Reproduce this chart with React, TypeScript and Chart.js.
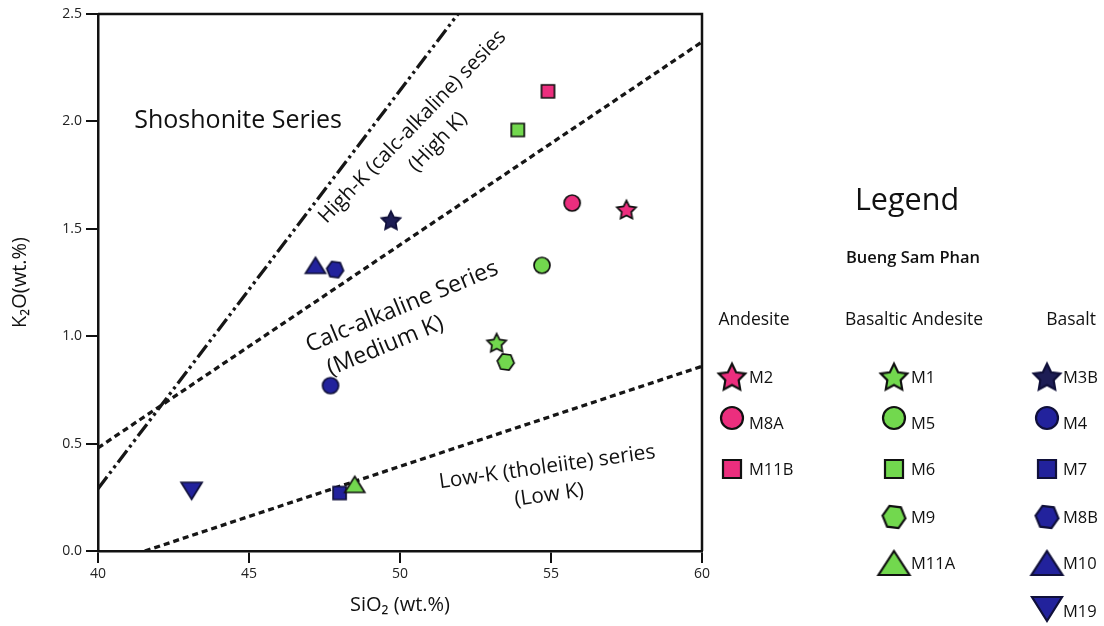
import React, { useEffect, useRef } from 'react';
import { Chart, registerables } from 'chart.js';

Chart.register(...registerables);

// ---------------- data ----------------
const sampleNames = ['M2', 'M8A', 'M11B', 'M1', 'M5', 'M6', 'M9', 'M11A', 'M3B', 'M4', 'M7', 'M8B', 'M10', 'M19'];
const rockTypes = [
  'Andesite', 'Andesite', 'Andesite',
  'Basaltic Andesite', 'Basaltic Andesite', 'Basaltic Andesite', 'Basaltic Andesite', 'Basaltic Andesite',
  'Basalt', 'Basalt', 'Basalt', 'Basalt', 'Basalt', 'Basalt',
];
const markerShapes = [
  'star', 'circle', 'square',
  'star', 'circle', 'square', 'hexagon', 'triangle',
  'star', 'circle', 'square', 'hexagon', 'triangle', 'triangleDown',
];
const sio2Values = [57.5, 55.7, 54.9, 53.2, 54.7, 53.9, 53.5, 48.5, 49.7, 47.7, 48.0, 47.85, 47.2, 43.1];
const k2oValues = [1.59, 1.62, 2.14, 0.97, 1.33, 1.96, 0.88, 0.31, 1.54, 0.77, 0.27, 1.31, 1.33, 0.28];

const rockGroups = ['Andesite', 'Basaltic Andesite', 'Basalt'];

const xTickValues = [40, 45, 50, 55, 60];
const yTickValues = [0, 0.5, 1.0, 1.5, 2.0, 2.5];

// classification boundaries (SiO2, K2O)
const shoshoniteLineX = [40, 51.92];
const shoshoniteLineY = [0.29, 2.5];
const highKLineX = [40, 60];
const highKLineY = [0.48, 2.37];
const lowKLineX = [41.55, 60];
const lowKLineY = [0, 0.86];

// field labels (placed in data coordinates)
const fieldLabelTexts = [
  'Shoshonite Series',
  'High-K (calc-alkaline) sesies',
  '(High K)',
  'Calc-alkaline Series',
  '(Medium K)',
  'Low-K (tholeiite) series',
  '(Low K)',
];
const fieldLabelX = [44.64, 50.55, 51.4, 50.15, 49.6, 54.9, 54.97];
const fieldLabelY = [1.969, 1.955, 1.885, 1.108, 0.926, 0.363, 0.233];
const fieldLabelAngle = [0, -46, -46, -22.5, -22.5, -8, -8];
const fieldLabelSize = [25, 20.5, 20.5, 23.2, 23.2, 20.8, 20.8];

// ---------------- styles ----------------
const FONT = "'Open Sans', 'Noto Sans', sans-serif";
const groupColors: Record<string, string> = {
  Andesite: '#ec2e7e',
  'Basaltic Andesite': '#72d84e',
  Basalt: '#22229c',
};
const specialFill: Record<string, string> = { M3B: '#1d1d55' };

type Size = { w: number; h: number };
const plotSizes: Record<string, Size> = {
  star: { w: 20, h: 19 },
  circle: { w: 16, h: 16 },
  square: { w: 13, h: 13 },
  hexagon: { w: 17, h: 16 },
  triangle: { w: 20, h: 16 },
  triangleDown: { w: 21, h: 17 },
};
const legendSizes: Record<string, Size> = {
  star: { w: 28, h: 27 },
  circle: { w: 22, h: 22 },
  square: { w: 18, h: 18 },
  hexagon: { w: 23, h: 22 },
  triangle: { w: 31, h: 24 },
  triangleDown: { w: 30, h: 24 },
};

function makeMarker(shape: string, fill: string, size: Size, stroke: string, lw: number): HTMLCanvasElement {
  const pad = Math.ceil(lw) + 1;
  const c = document.createElement('canvas');
  c.width = Math.ceil(size.w + pad * 2);
  c.height = Math.ceil(size.h + pad * 2);
  const ctx = c.getContext('2d')!;
  const cx = c.width / 2;
  const cy = c.height / 2;
  const rw = size.w / 2;
  const rh = size.h / 2;
  ctx.beginPath();
  if (shape === 'circle') {
    ctx.ellipse(cx, cy, rw, rh, 0, 0, Math.PI * 2);
  } else if (shape === 'square') {
    ctx.rect(cx - rw, cy - rh, size.w, size.h);
  } else if (shape === 'star') {
    const inner = 0.5;
    for (let i = 0; i < 10; i++) {
      const a = -Math.PI / 2 + (i * Math.PI) / 5;
      const r = i % 2 === 0 ? 1 : inner;
      const px = cx + Math.cos(a) * rw * r;
      const py = cy + 1 + Math.sin(a) * rh * r * 1.05;
      if (i === 0) ctx.moveTo(px, py);
      else ctx.lineTo(px, py);
    }
    ctx.closePath();
  } else if (shape === 'hexagon') {
    for (let i = 0; i < 6; i++) {
      const a = (i * Math.PI) / 3 + 0.12;
      const px = cx + Math.cos(a) * rw;
      const py = cy + Math.sin(a) * rh * 1.1;
      if (i === 0) ctx.moveTo(px, py);
      else ctx.lineTo(px, py);
    }
    ctx.closePath();
  } else if (shape === 'triangle') {
    ctx.moveTo(cx, cy - rh);
    ctx.lineTo(cx + rw, cy + rh);
    ctx.lineTo(cx - rw, cy + rh);
    ctx.closePath();
  } else if (shape === 'triangleDown') {
    ctx.moveTo(cx, cy + rh);
    ctx.lineTo(cx + rw, cy - rh);
    ctx.lineTo(cx - rw, cy - rh);
    ctx.closePath();
  }
  ctx.fillStyle = fill;
  ctx.fill();
  ctx.lineJoin = 'miter';
  ctx.lineWidth = lw;
  ctx.strokeStyle = stroke;
  ctx.stroke();
  return c;
}

function fillFor(i: number): string {
  return specialFill[sampleNames[i]] || groupColors[rockTypes[i]];
}
function strokeFor(i: number): string {
  return rockTypes[i] === 'Basalt' ? '#10103a' : '#111111';
}

// ---------------- plugins ----------------
const framePlugin = {
  id: 'frame',
  afterDraw(chart: any) {
    const { ctx, chartArea } = chart;
    ctx.save();
    ctx.strokeStyle = '#111';
    ctx.lineWidth = 2.5;
    ctx.beginPath();
    ctx.moveTo(chartArea.left, chartArea.top);
    ctx.lineTo(chartArea.right, chartArea.top);
    ctx.lineTo(chartArea.right, chartArea.bottom);
    ctx.stroke();
    ctx.restore();
  },
};

const fieldLabelPlugin = {
  id: 'fieldLabels',
  beforeDatasetsDraw(chart: any) {
    const { ctx, scales } = chart;
    ctx.save();
    ctx.fillStyle = '#111';
    ctx.textAlign = 'center';
    ctx.textBaseline = 'alphabetic';
    fieldLabelTexts.forEach((t, i) => {
      const px = scales.x.getPixelForValue(fieldLabelX[i]);
      const py = scales.y.getPixelForValue(fieldLabelY[i]);
      ctx.save();
      ctx.translate(px, py);
      ctx.rotate((fieldLabelAngle[i] * Math.PI) / 180);
      ctx.font = `${fieldLabelSize[i]}px ${FONT}`;
      ctx.fillText(t, 0, 0);
      ctx.restore();
    });
    ctx.restore();
  },
};

const legendPlugin = {
  id: 'customLegend',
  afterDraw(chart: any) {
    const { ctx } = chart;
    ctx.save();
    ctx.fillStyle = '#111';
    ctx.textAlign = 'center';
    ctx.textBaseline = 'middle';
    ctx.font = `30.5px ${FONT}`;
    ctx.fillText('Legend', 907, 201);
    ctx.font = `600 16.5px ${FONT}`;
    ctx.fillText('Bueng Sam Phan', 913, 258);
    ctx.font = `17.5px ${FONT}`;
    const headerX = [754, 914, 1071];
    rockGroups.forEach((g, gi) => ctx.fillText(g, headerX[gi], 320));

    const markerX = [732, 894, 1047];
    const labelX = [749, 911, 1063];
    const rowY = [377, 418, 469, 517, 563, 609];
    const labelYOff = [1, 6, 1, 1, 1, 3];
    ctx.textAlign = 'left';
    ctx.font = `16.5px ${FONT}`;
    rockGroups.forEach((g, gi) => {
      let row = 0;
      sampleNames.forEach((name, i) => {
        if (rockTypes[i] !== g) return;
        const img = makeMarker(markerShapes[i], fillFor(i), legendSizes[markerShapes[i]], strokeFor(i), 2.2);
        ctx.drawImage(img, markerX[gi] - img.width / 2, rowY[row] - img.height / 2);
        ctx.fillText(name, labelX[gi], rowY[row] + labelYOff[row]);
        row++;
      });
    });
    ctx.restore();
  },
};

export default function App() {
  const canvasRef = useRef<HTMLCanvasElement | null>(null);

  useEffect(() => {
    if (!canvasRef.current) return;
    const pointDatasets = sampleNames.map((name, i) => ({
      type: 'scatter' as const,
      label: name,
      data: [{ x: sio2Values[i], y: k2oValues[i] }],
      pointStyle: makeMarker(markerShapes[i], fillFor(i), plotSizes[markerShapes[i]], strokeFor(i), 1.7),
      pointRadius: 9,
      backgroundColor: fillFor(i),
      borderColor: '#111',
    }));
    const lineDef = (xs: number[], ys: number[], dash: number[], label: string) => ({
      type: 'line' as const,
      label,
      data: xs.map((x, k) => ({ x, y: ys[k] })),
      borderColor: '#161616',
      borderWidth: 3.3,
      borderDash: dash,
      borderCapStyle: 'butt' as const,
      pointRadius: 0,
      fill: false,
      tension: 0,
    });
    const chart = new Chart(canvasRef.current, {
      type: 'scatter',
      data: {
        datasets: [
          ...pointDatasets,
          lineDef(shoshoniteLineX, shoshoniteLineY, [15, 4, 3, 4, 3, 4], 'Shoshonite boundary'),
          lineDef(highKLineX, highKLineY, [6, 4], 'High-K boundary'),
          lineDef(lowKLineX, lowKLineY, [6, 4], 'Low-K boundary'),
        ] as any,
      },
      options: {
        animation: false,
        responsive: true,
        maintainAspectRatio: false,
        layout: { padding: { left: 0, top: 14, right: 402, bottom: 0 } },
        plugins: {
          legend: { display: false },
          tooltip: { enabled: false },
        },
        scales: {
          x: {
            type: 'linear',
            min: 40,
            max: 60,
            afterFit: (s: any) => { s.height = 75; },
            afterBuildTicks: (s: any) => { s.ticks = xTickValues.map((v) => ({ value: v })); },
            ticks: {
              color: '#222',
              font: { family: FONT, size: 14 },
              padding: 3,
              callback: (v: any) => String(v),
            },
            grid: { display: true, drawOnChartArea: false, drawTicks: true, tickLength: 12, color: '#111', lineWidth: 2 },
            border: { display: true, color: '#111', width: 2.5 },
            title: {
              display: true,
              text: 'SiO₂ (wt.%)',
              color: '#111',
              font: { family: FONT, size: 20 },
              padding: { top: 0, bottom: 9 },
            },
          },
          y: {
            type: 'linear',
            min: 0,
            max: 2.5,
            afterFit: (s: any) => { s.width = 98; },
            afterBuildTicks: (s: any) => { s.ticks = yTickValues.map((v) => ({ value: v })); },
            ticks: {
              color: '#222',
              font: { family: FONT, size: 14 },
              padding: 4,
              callback: (v: any) => Number(v).toFixed(1),
            },
            grid: { display: true, drawOnChartArea: false, drawTicks: true, tickLength: 12, color: '#111', lineWidth: 2 },
            border: { display: true, color: '#111', width: 2.5 },
            title: {
              display: true,
              text: 'K₂O(wt.%)',
              color: '#111',
              font: { family: FONT, size: 20 },
              padding: { top: 8, bottom: 0 },
            },
          },
        },
      },
      plugins: [fieldLabelPlugin, framePlugin, legendPlugin],
    });
    return () => chart.destroy();
  }, []);

  return (
    <div style={{ position: 'absolute', left: 0, top: 0, width: 1104, height: 626, background: '#fff' }}>
      <canvas ref={canvasRef} style={{ display: 'block' }} />
    </div>
  );
}
